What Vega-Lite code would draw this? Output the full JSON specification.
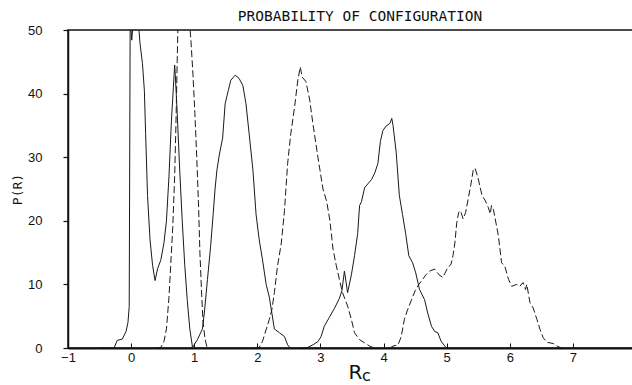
{
  "$schema": "https://vega.github.io/schema/vega-lite/v6.json",
  "autosize": {"type": "none"},
  "padding": {"left": 68, "top": 30, "right": 0, "bottom": 37},
  "width": 568,
  "height": 318,
  "background": "white",
  "config": {
    "view": {"stroke": "#111", "strokeWidth": 1.5},
    "axis": {"grid": false, "domainColor": "#111", "tickColor": "#111", "labelColor": "#111", "titleColor": "#111"}
  },
  "title": {
    "text": "PROBABILITY OF CONFIGURATION",
    "font": "DejaVu Sans Mono",
    "fontSize": 14.5,
    "fontWeight": "normal",
    "color": "#111",
    "anchor": "middle",
    "dx": 8,
    "dy": 8,
    "offset": 8
  },
  "datasets": {
    "curves": [
      {"curve": "A", "style": "solid", "x": -0.5, "y": 0},
      {"curve": "A", "style": "solid", "x": -0.27, "y": 0},
      {"curve": "A", "style": "solid", "x": -0.22, "y": 1.2},
      {"curve": "A", "style": "solid", "x": -0.14, "y": 1.4},
      {"curve": "A", "style": "solid", "x": -0.08, "y": 2.6},
      {"curve": "A", "style": "solid", "x": -0.05, "y": 4},
      {"curve": "A", "style": "solid", "x": -0.03, "y": 6.5},
      {"curve": "A", "style": "solid", "x": -0.015, "y": 52},
      {"curve": "A", "style": "solid", "x": 0.01, "y": 48.4},
      {"curve": "A", "style": "solid", "x": 0.04, "y": 52},
      {"curve": "A", "style": "solid", "x": 0.11, "y": 52},
      {"curve": "A", "style": "solid", "x": 0.14, "y": 48},
      {"curve": "A", "style": "solid", "x": 0.18, "y": 44.7},
      {"curve": "A", "style": "solid", "x": 0.21, "y": 40.5},
      {"curve": "A", "style": "solid", "x": 0.23, "y": 33.7},
      {"curve": "A", "style": "solid", "x": 0.26, "y": 24},
      {"curve": "A", "style": "solid", "x": 0.3, "y": 17},
      {"curve": "A", "style": "solid", "x": 0.34, "y": 13},
      {"curve": "A", "style": "solid", "x": 0.38, "y": 10.6},
      {"curve": "A", "style": "solid", "x": 0.42, "y": 12.5},
      {"curve": "A", "style": "solid", "x": 0.47, "y": 13.8},
      {"curve": "A", "style": "solid", "x": 0.52, "y": 16.5},
      {"curve": "A", "style": "solid", "x": 0.56, "y": 20},
      {"curve": "A", "style": "solid", "x": 0.6, "y": 27},
      {"curve": "A", "style": "solid", "x": 0.64, "y": 36},
      {"curve": "A", "style": "solid", "x": 0.67, "y": 41},
      {"curve": "A", "style": "solid", "x": 0.69, "y": 44.5},
      {"curve": "A", "style": "solid", "x": 0.7, "y": 43},
      {"curve": "A", "style": "solid", "x": 0.73, "y": 37},
      {"curve": "A", "style": "solid", "x": 0.77, "y": 28},
      {"curve": "A", "style": "solid", "x": 0.81, "y": 20},
      {"curve": "A", "style": "solid", "x": 0.85, "y": 13},
      {"curve": "A", "style": "solid", "x": 0.89, "y": 7.5},
      {"curve": "A", "style": "solid", "x": 0.93, "y": 3},
      {"curve": "A", "style": "solid", "x": 0.97, "y": 0.3},
      {"curve": "A", "style": "solid", "x": 1.0, "y": 0},
      {"curve": "B", "style": "dashed", "x": 0.4, "y": 0},
      {"curve": "B", "style": "dashed", "x": 0.47, "y": 0.1},
      {"curve": "B", "style": "dashed", "x": 0.52, "y": 1},
      {"curve": "B", "style": "dashed", "x": 0.56, "y": 3},
      {"curve": "B", "style": "dashed", "x": 0.6, "y": 8},
      {"curve": "B", "style": "dashed", "x": 0.63, "y": 13.5},
      {"curve": "B", "style": "dashed", "x": 0.66, "y": 19},
      {"curve": "B", "style": "dashed", "x": 0.69, "y": 27},
      {"curve": "B", "style": "dashed", "x": 0.71, "y": 35},
      {"curve": "B", "style": "dashed", "x": 0.73, "y": 45},
      {"curve": "B", "style": "dashed", "x": 0.745, "y": 52},
      {"curve": "B", "style": "dashed", "x": 0.92, "y": 52},
      {"curve": "B", "style": "dashed", "x": 0.95, "y": 48},
      {"curve": "B", "style": "dashed", "x": 0.98, "y": 43},
      {"curve": "B", "style": "dashed", "x": 1.01, "y": 37},
      {"curve": "B", "style": "dashed", "x": 1.04, "y": 30},
      {"curve": "B", "style": "dashed", "x": 1.07, "y": 22},
      {"curve": "B", "style": "dashed", "x": 1.09, "y": 15},
      {"curve": "B", "style": "dashed", "x": 1.12, "y": 8},
      {"curve": "B", "style": "dashed", "x": 1.14, "y": 4},
      {"curve": "B", "style": "dashed", "x": 1.17, "y": 1.5},
      {"curve": "B", "style": "dashed", "x": 1.2, "y": 0.2},
      {"curve": "B", "style": "dashed", "x": 1.25, "y": 0},
      {"curve": "C", "style": "solid", "x": 0.93, "y": 0},
      {"curve": "C", "style": "solid", "x": 0.98, "y": 0.2},
      {"curve": "C", "style": "solid", "x": 1.05, "y": 1.3},
      {"curve": "C", "style": "solid", "x": 1.13, "y": 3},
      {"curve": "C", "style": "solid", "x": 1.16, "y": 5.5},
      {"curve": "C", "style": "solid", "x": 1.21, "y": 10.8},
      {"curve": "C", "style": "solid", "x": 1.26, "y": 16},
      {"curve": "C", "style": "solid", "x": 1.3, "y": 21},
      {"curve": "C", "style": "solid", "x": 1.33, "y": 25},
      {"curve": "C", "style": "solid", "x": 1.36, "y": 28},
      {"curve": "C", "style": "solid", "x": 1.4, "y": 30.5},
      {"curve": "C", "style": "solid", "x": 1.45, "y": 33},
      {"curve": "C", "style": "solid", "x": 1.49, "y": 38.4},
      {"curve": "C", "style": "solid", "x": 1.54, "y": 40.5},
      {"curve": "C", "style": "solid", "x": 1.58, "y": 42.1},
      {"curve": "C", "style": "solid", "x": 1.65, "y": 42.9},
      {"curve": "C", "style": "solid", "x": 1.71, "y": 42.4},
      {"curve": "C", "style": "solid", "x": 1.77, "y": 41.3},
      {"curve": "C", "style": "solid", "x": 1.82, "y": 38.4},
      {"curve": "C", "style": "solid", "x": 1.87, "y": 33.7},
      {"curve": "C", "style": "solid", "x": 1.93, "y": 28},
      {"curve": "C", "style": "solid", "x": 1.98, "y": 21},
      {"curve": "C", "style": "solid", "x": 2.03, "y": 17},
      {"curve": "C", "style": "solid", "x": 2.08, "y": 14},
      {"curve": "C", "style": "solid", "x": 2.14, "y": 10},
      {"curve": "C", "style": "solid", "x": 2.19, "y": 8},
      {"curve": "C", "style": "solid", "x": 2.23, "y": 5.5},
      {"curve": "C", "style": "solid", "x": 2.27, "y": 3},
      {"curve": "C", "style": "solid", "x": 2.35, "y": 2.4},
      {"curve": "C", "style": "solid", "x": 2.43, "y": 1.8},
      {"curve": "C", "style": "solid", "x": 2.48, "y": 0.5},
      {"curve": "C", "style": "solid", "x": 2.52, "y": 0},
      {"curve": "D", "style": "dashed", "x": 1.95, "y": 0},
      {"curve": "D", "style": "dashed", "x": 2.03, "y": 0.1},
      {"curve": "D", "style": "dashed", "x": 2.08, "y": 1},
      {"curve": "D", "style": "dashed", "x": 2.14, "y": 2.9},
      {"curve": "D", "style": "dashed", "x": 2.19, "y": 4.5},
      {"curve": "D", "style": "dashed", "x": 2.23, "y": 6},
      {"curve": "D", "style": "dashed", "x": 2.27, "y": 8.7},
      {"curve": "D", "style": "dashed", "x": 2.32, "y": 12.9},
      {"curve": "D", "style": "dashed", "x": 2.38, "y": 16.5},
      {"curve": "D", "style": "dashed", "x": 2.43, "y": 21.6},
      {"curve": "D", "style": "dashed", "x": 2.48, "y": 29},
      {"curve": "D", "style": "dashed", "x": 2.53, "y": 33.7},
      {"curve": "D", "style": "dashed", "x": 2.59, "y": 37.9},
      {"curve": "D", "style": "dashed", "x": 2.64, "y": 42},
      {"curve": "D", "style": "dashed", "x": 2.68, "y": 44.2},
      {"curve": "D", "style": "dashed", "x": 2.71, "y": 42.6},
      {"curve": "D", "style": "dashed", "x": 2.77, "y": 41.9},
      {"curve": "D", "style": "dashed", "x": 2.83, "y": 39},
      {"curve": "D", "style": "dashed", "x": 2.88, "y": 35.3},
      {"curve": "D", "style": "dashed", "x": 2.96, "y": 30},
      {"curve": "D", "style": "dashed", "x": 3.04, "y": 25},
      {"curve": "D", "style": "dashed", "x": 3.1, "y": 23},
      {"curve": "D", "style": "dashed", "x": 3.15, "y": 20},
      {"curve": "D", "style": "dashed", "x": 3.2, "y": 15.5},
      {"curve": "D", "style": "dashed", "x": 3.25, "y": 13},
      {"curve": "D", "style": "dashed", "x": 3.3, "y": 10.8},
      {"curve": "D", "style": "dashed", "x": 3.35, "y": 8.7},
      {"curve": "D", "style": "dashed", "x": 3.43, "y": 6.6},
      {"curve": "D", "style": "dashed", "x": 3.49, "y": 4.5},
      {"curve": "D", "style": "dashed", "x": 3.54, "y": 2.4},
      {"curve": "D", "style": "dashed", "x": 3.62, "y": 1.3},
      {"curve": "D", "style": "dashed", "x": 3.7, "y": 0.8},
      {"curve": "D", "style": "dashed", "x": 3.78, "y": 0.3},
      {"curve": "D", "style": "dashed", "x": 3.85, "y": 0},
      {"curve": "E", "style": "solid", "x": 2.7, "y": 0},
      {"curve": "E", "style": "solid", "x": 2.8, "y": 0.1},
      {"curve": "E", "style": "solid", "x": 2.88, "y": 0.5},
      {"curve": "E", "style": "solid", "x": 2.96, "y": 1},
      {"curve": "E", "style": "solid", "x": 3.01, "y": 1.8},
      {"curve": "E", "style": "solid", "x": 3.06, "y": 3.4},
      {"curve": "E", "style": "solid", "x": 3.14, "y": 4.8},
      {"curve": "E", "style": "solid", "x": 3.22, "y": 6.2},
      {"curve": "E", "style": "solid", "x": 3.3, "y": 7.8},
      {"curve": "E", "style": "solid", "x": 3.34, "y": 9},
      {"curve": "E", "style": "solid", "x": 3.38, "y": 12.1},
      {"curve": "E", "style": "solid", "x": 3.43, "y": 8.7},
      {"curve": "E", "style": "solid", "x": 3.49, "y": 11.5},
      {"curve": "E", "style": "solid", "x": 3.54, "y": 14.5},
      {"curve": "E", "style": "solid", "x": 3.59, "y": 18},
      {"curve": "E", "style": "solid", "x": 3.62, "y": 22.4},
      {"curve": "E", "style": "solid", "x": 3.65, "y": 23},
      {"curve": "E", "style": "solid", "x": 3.7, "y": 25.2},
      {"curve": "E", "style": "solid", "x": 3.75, "y": 25.8},
      {"curve": "E", "style": "solid", "x": 3.81, "y": 26.5},
      {"curve": "E", "style": "solid", "x": 3.86, "y": 27.5},
      {"curve": "E", "style": "solid", "x": 3.91, "y": 29},
      {"curve": "E", "style": "solid", "x": 3.95, "y": 32.5},
      {"curve": "E", "style": "solid", "x": 3.99, "y": 34.2},
      {"curve": "E", "style": "solid", "x": 4.04, "y": 34.9},
      {"curve": "E", "style": "solid", "x": 4.1, "y": 35.3},
      {"curve": "E", "style": "solid", "x": 4.13, "y": 36.1},
      {"curve": "E", "style": "solid", "x": 4.15, "y": 35},
      {"curve": "E", "style": "solid", "x": 4.2, "y": 30.8},
      {"curve": "E", "style": "solid", "x": 4.25, "y": 24},
      {"curve": "E", "style": "solid", "x": 4.3, "y": 21},
      {"curve": "E", "style": "solid", "x": 4.35, "y": 18},
      {"curve": "E", "style": "solid", "x": 4.4, "y": 14.5},
      {"curve": "E", "style": "solid", "x": 4.46, "y": 13.4},
      {"curve": "E", "style": "solid", "x": 4.51, "y": 11.8},
      {"curve": "E", "style": "solid", "x": 4.57, "y": 9.2},
      {"curve": "E", "style": "solid", "x": 4.65, "y": 7.6},
      {"curve": "E", "style": "solid", "x": 4.7, "y": 5.5},
      {"curve": "E", "style": "solid", "x": 4.76, "y": 3.4},
      {"curve": "E", "style": "solid", "x": 4.81, "y": 2.6},
      {"curve": "E", "style": "solid", "x": 4.86, "y": 2.4},
      {"curve": "E", "style": "solid", "x": 4.91, "y": 1.1},
      {"curve": "E", "style": "solid", "x": 4.97, "y": 0.3},
      {"curve": "E", "style": "solid", "x": 5.0, "y": 0},
      {"curve": "F", "style": "dashed", "x": 4.1, "y": 0},
      {"curve": "F", "style": "dashed", "x": 4.15, "y": 0.3},
      {"curve": "F", "style": "dashed", "x": 4.23, "y": 0.5},
      {"curve": "F", "style": "dashed", "x": 4.28, "y": 1.8},
      {"curve": "F", "style": "dashed", "x": 4.33, "y": 4.5},
      {"curve": "F", "style": "dashed", "x": 4.38, "y": 6},
      {"curve": "F", "style": "dashed", "x": 4.44, "y": 7.5},
      {"curve": "F", "style": "dashed", "x": 4.5, "y": 9},
      {"curve": "F", "style": "dashed", "x": 4.56, "y": 10},
      {"curve": "F", "style": "dashed", "x": 4.62, "y": 10.8},
      {"curve": "F", "style": "dashed", "x": 4.67, "y": 11.5},
      {"curve": "F", "style": "dashed", "x": 4.73, "y": 12.1},
      {"curve": "F", "style": "dashed", "x": 4.81, "y": 12.4},
      {"curve": "F", "style": "dashed", "x": 4.88, "y": 11.5},
      {"curve": "F", "style": "dashed", "x": 4.94, "y": 11.1},
      {"curve": "F", "style": "dashed", "x": 5.01, "y": 12.5},
      {"curve": "F", "style": "dashed", "x": 5.07, "y": 13.2},
      {"curve": "F", "style": "dashed", "x": 5.1, "y": 14.5},
      {"curve": "F", "style": "dashed", "x": 5.13, "y": 16.5},
      {"curve": "F", "style": "dashed", "x": 5.16, "y": 19.7},
      {"curve": "F", "style": "dashed", "x": 5.19, "y": 21.3},
      {"curve": "F", "style": "dashed", "x": 5.22, "y": 21.6},
      {"curve": "F", "style": "dashed", "x": 5.26, "y": 20.3},
      {"curve": "F", "style": "dashed", "x": 5.3, "y": 21.3},
      {"curve": "F", "style": "dashed", "x": 5.34, "y": 23.4},
      {"curve": "F", "style": "dashed", "x": 5.38, "y": 25.5},
      {"curve": "F", "style": "dashed", "x": 5.42, "y": 27.9},
      {"curve": "F", "style": "dashed", "x": 5.45, "y": 28.3},
      {"curve": "F", "style": "dashed", "x": 5.5, "y": 26.6},
      {"curve": "F", "style": "dashed", "x": 5.56, "y": 24},
      {"curve": "F", "style": "dashed", "x": 5.61, "y": 23.2},
      {"curve": "F", "style": "dashed", "x": 5.66, "y": 22.1},
      {"curve": "F", "style": "dashed", "x": 5.69, "y": 21.1},
      {"curve": "F", "style": "dashed", "x": 5.71, "y": 22.4},
      {"curve": "F", "style": "dashed", "x": 5.74, "y": 21.8},
      {"curve": "F", "style": "dashed", "x": 5.76, "y": 20.8},
      {"curve": "F", "style": "dashed", "x": 5.82, "y": 17.6},
      {"curve": "F", "style": "dashed", "x": 5.87, "y": 13.4},
      {"curve": "F", "style": "dashed", "x": 5.92, "y": 12.9},
      {"curve": "F", "style": "dashed", "x": 5.98, "y": 10.8},
      {"curve": "F", "style": "dashed", "x": 6.03, "y": 9.7},
      {"curve": "F", "style": "dashed", "x": 6.11, "y": 10},
      {"curve": "F", "style": "dashed", "x": 6.16, "y": 9.7},
      {"curve": "F", "style": "dashed", "x": 6.21, "y": 10.3},
      {"curve": "F", "style": "dashed", "x": 6.25, "y": 9.2},
      {"curve": "F", "style": "dashed", "x": 6.27, "y": 10},
      {"curve": "F", "style": "dashed", "x": 6.32, "y": 7.1},
      {"curve": "F", "style": "dashed", "x": 6.37, "y": 6.3},
      {"curve": "F", "style": "dashed", "x": 6.43, "y": 4.5},
      {"curve": "F", "style": "dashed", "x": 6.48, "y": 2.9},
      {"curve": "F", "style": "dashed", "x": 6.53, "y": 1.6},
      {"curve": "F", "style": "dashed", "x": 6.59, "y": 0.9},
      {"curve": "F", "style": "dashed", "x": 6.69, "y": 0.7},
      {"curve": "F", "style": "dashed", "x": 6.75, "y": 0.3},
      {"curve": "F", "style": "dashed", "x": 6.82, "y": 0}
    ]
  },
  "data": {"name": "curves"},
  "layer": [
    {
      "transform": [{"filter": "datum.style === 'solid'"}],
      "mark": {"type": "line", "clip": true, "color": "#1a1a1a", "strokeWidth": 1},
      "encoding": {
        "x": {
          "field": "x", "type": "quantitative",
          "scale": {"domain": [-1, 8], "nice": false, "zero": false},
          "axis": {
            "orient": "bottom",
            "title": "R", "titleFont": "DejaVu Sans", "titleFontSize": 20, "titleFontWeight": "normal",
            "titleX": 287, "titleY": 30, "titleBaseline": "alphabetic", "titleAlign": "center",
            "values": [-1, 0, 1, 2, 3, 4, 5, 6, 7, 8], "format": "d",
            "labelFont": "Liberation Sans", "labelFontSize": 13, "labelPadding": 8,
            "tickSize": -5, "tickWidth": 1, "domainWidth": 2, "labelFlush": false
          }
        },
        "y": {
          "field": "y", "type": "quantitative",
          "scale": {"domain": [0, 50], "nice": false},
          "axis": {
            "title": "P(R)", "titleFont": "DejaVu Sans Mono", "titleFontSize": 13, "titleFontWeight": "normal",
            "titleX": -51, "titleY": 159, "titleAngle": -90, "titleBaseline": "middle", "titleAlign": "center",
            "values": [0, 10, 20, 30, 40, 50],
            "labelFont": "Liberation Sans", "labelFontSize": 13, "labelPadding": 21,
            "tickSize": 5, "tickWidth": 1.2, "domainWidth": 1.5
          }
        },
        "detail": {"field": "curve"}
      }
    },
    {
      "transform": [{"filter": "datum.style === 'dashed'"}],
      "mark": {"type": "line", "clip": true, "color": "#1a1a1a", "strokeWidth": 1, "strokeDash": [7, 3]},
      "encoding": {
        "x": {
          "field": "x", "type": "quantitative",
          "axis": {
            "orient": "bottom",
            "title": "c", "titleFont": "DejaVu Sans", "titleFontSize": 16, "titleFontWeight": "normal",
            "titleX": 298, "titleY": 32, "titleBaseline": "alphabetic", "titleAlign": "center",
            "labels": false, "ticks": false, "domain": false
          }
        },
        "y": {"field": "y", "type": "quantitative"},
        "detail": {"field": "curve"}
      }
    }
  ],
  "resolve": {"axis": {"x": "independent"}}
}
